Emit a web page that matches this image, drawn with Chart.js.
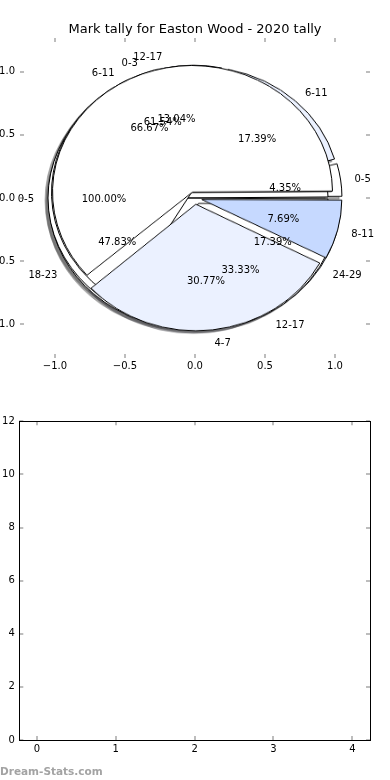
<!DOCTYPE html>
<html>
<head>
<meta charset="utf-8">
<script src="https://cdn.jsdelivr.net/npm/chart.js@4.4.0/dist/chart.umd.min.js"></script>
<style>
  html, body { margin: 0; padding: 0; background: #ffffff; }
  #wrap { position: relative; width: 390px; height: 780px; overflow: hidden; }
  #wrap canvas { position: absolute; left: 0; top: 0; }
  #bar { top: 400px !important; }
</style>
</head>
<body>
<div id="wrap">
  <canvas id="ax" width="390" height="390"></canvas>
  <canvas id="bar" width="390" height="380"></canvas>
</div>
<script>
// ---------------- data ----------------
const chartTitle = 'Mark tally for Easton Wood - 2020 tally';

const pieALabels = ['0-5', '6-11', '12-17', '18-23', '24-29'];
const pieAValues = [1, 4, 3, 11, 4];

const pieBLabels = ['0-3', '4-7', '8-11'];
const pieBValues = [8, 4, 1];

const pieCLabels = ['6-11', '12-17'];
const pieCValues = [2, 1];

const pieDLabels = ['0-5'];
const pieDValues = [1];

const pieTicks  = [-1.0, -0.5, 0.0, 0.5, 1.0];
const barXTicks = [0, 1, 2, 3, 4];
const barYTicks = [0, 2, 4, 6, 8, 10, 12];

const watermark = 'Dream-Stats.com';

// ---------------- style ----------------
const WHITE = '#ffffff', LIGHT = '#ebf1ff', BLUE = '#c6d9ff';
const pieAColors = [WHITE, LIGHT, BLUE, WHITE, LIGHT];
const pieBColors = [WHITE, LIGHT, BLUE];
const pieCColors = [WHITE, WHITE];
const pieDColors = [WHITE];
const EDGE = '#000000';
const EXPLODE = 0.05;        // explode distance, data units
const LABEL_DIST = 1.1;
const PCT_DIST = 0.6;
const TEXT_DY = 1.5;         // canvas vs matplotlib vertical text centring
const SHADOW_DX = -0.02, SHADOW_DY = -0.02;
const FONT = '"DejaVu Sans", "Liberation Sans", sans-serif';
const TICK_COLOR = '#bdbdbd';
const PIE_XLIM = 1.25, PIE_YLIM = 1.265;

// pies in drawing order (bottom -> top)
const pies = [
  { labels: pieALabels, values: pieAValues, colors: pieAColors },
  { labels: pieDLabels, values: pieDValues, colors: pieDColors },
  { labels: pieCLabels, values: pieCValues, colors: pieCColors },
  { labels: pieBLabels, values: pieBValues, colors: pieBColors }
];

const fmtTick = v => (v < 0 ? '\u2212' : '') + Math.abs(v).toFixed(1);

// inward tick marks on all four sides (+ optional frame)
function innerTicks(frame) {
  return {
    id: 'innerTicks',
    afterDraw(chart) {
      const { ctx, chartArea: a, scales: { x, y } } = chart;
      ctx.save();
      ctx.strokeStyle = TICK_COLOR;
      ctx.lineWidth = 2;
      const L = 4;
      x.ticks.forEach(t => {
        const p = Math.round(x.getPixelForValue(t.value));
        ctx.beginPath();
        ctx.moveTo(p, a.top); ctx.lineTo(p, a.top + L);
        ctx.moveTo(p, a.bottom); ctx.lineTo(p, a.bottom - L);
        ctx.stroke();
      });
      y.ticks.forEach(t => {
        const p = Math.round(y.getPixelForValue(t.value));
        ctx.beginPath();
        ctx.moveTo(a.left, p); ctx.lineTo(a.left + L, p);
        ctx.moveTo(a.right, p); ctx.lineTo(a.right - L, p);
        ctx.stroke();
      });
      if (frame) {
        ctx.strokeStyle = '#000';
        ctx.lineWidth = 1;
        const l = Math.round(a.left) + 0.5, r = Math.round(a.right) + 0.5;
        const tp = Math.round(a.top) + 0.5, b = Math.round(a.bottom) + 0.5;
        ctx.strokeRect(l, tp, r - l, b - tp);
      }
      ctx.restore();
    }
  };
}

// labels and percentages of every pie, placed through the axes scales
const pieText = {
  id: 'pieText',
  afterDraw(chart) {
    const { ctx, scales: { x, y } } = chart;
    ctx.save();
    ctx.font = '10px ' + FONT;
    ctx.fillStyle = '#000';
    ctx.textBaseline = 'middle';
    pies.forEach(p => {
      const total = p.values.reduce((s, v) => s + v, 0);
      let acc = 0;
      p.values.forEach((v, i) => {
        const a1 = acc / total * 360; acc += v;
        const a2 = acc / total * 360;
        const m = (a1 + a2) / 2 * Math.PI / 180;
        const ex = EXPLODE * Math.cos(m), ey = EXPLODE * Math.sin(m);
        const lx = ex + LABEL_DIST * Math.cos(m), ly = ey + LABEL_DIST * Math.sin(m);
        ctx.textAlign = lx > 0 ? 'left' : 'right';
        ctx.fillText(p.labels[i], x.getPixelForValue(lx), y.getPixelForValue(ly) + TEXT_DY);
        ctx.textAlign = 'center';
        ctx.fillText((v / total * 100).toFixed(2) + '%',
          x.getPixelForValue(ex + PCT_DIST * Math.cos(m)),
          y.getPixelForValue(ey + PCT_DIST * Math.sin(m)) + TEXT_DY);
      });
    });
    ctx.restore();
  }
};

const tickFont = { family: FONT, size: 10 };

// ---------------- top axes (frame for the pies) ----------------
const axCanvas = document.getElementById('ax');
const axChart = new Chart(axCanvas, {
  type: 'scatter',
  data: { datasets: [] },
  options: {
    responsive: false, animation: false, events: [], devicePixelRatio: 1,
    layout: { padding: 0 },
    plugins: {
      legend: { display: false }, tooltip: { enabled: false },
      title: {
        display: true, text: chartTitle, color: '#000',
        font: { family: FONT, size: 13, weight: 'normal' },
        padding: { top: 22, bottom: 0.4 }
      }
    },
    scales: {
      x: {
        type: 'linear', min: -PIE_XLIM, max: PIE_XLIM,
        afterBuildTicks: s => { s.ticks = pieTicks.map(v => ({ value: v })); },
        afterFit: s => { s.height = 32; },
        grid: { display: false, drawTicks: false }, border: { display: false },
        ticks: { color: '#000', font: tickFont, padding: 2, maxRotation: 0, autoSkip: false, callback: v => fmtTick(v) }
      },
      y: {
        type: 'linear', min: -PIE_YLIM, max: PIE_YLIM,
        afterBuildTicks: s => { s.ticks = pieTicks.map(v => ({ value: v })); },
        afterFit: s => { s.width = 20; },
        grid: { display: false, drawTicks: false }, border: { display: false },
        ticks: { color: '#000', font: tickFont, padding: 5, autoSkip: false, callback: v => fmtTick(v) }
      },
      yRight: {
        type: 'linear', position: 'right', min: -PIE_YLIM, max: PIE_YLIM,
        afterFit: s => { s.width = 20; },
        grid: { display: false, drawTicks: false }, border: { display: false },
        ticks: { display: false }
      }
    }
  },
  plugins: [innerTicks(false), pieText]
});

// geometry of the pie frame, from the axes scales
const xs = axChart.scales.x, ys = axChart.scales.y;
const cx = xs.getPixelForValue(0), cy = ys.getPixelForValue(0);
const unitX = xs.getPixelForValue(1) - cx;
const unitY = cy - ys.getPixelForValue(1);

// Chart.js's offset (explode) also grows the radius a bit; keep the wedge radius fixed
const explodeFix = {
  id: 'explodeFix',
  afterDatasetsUpdate(chart) {
    const meta = chart.getDatasetMeta(0);
    const R = meta.controller.outerRadius;
    const off = chart.data.datasets[0].offset || 0;
    meta.data.forEach(arc => {
      const o = off / 4;
      const fix = 1 - Math.sin(Math.min(Math.PI, arc.circumference || 0));
      arc.outerRadius = R - o * fix;
    });
  }
};

function shadowOf(hex) {
  const n = parseInt(hex.slice(1), 16);
  const r = ((n >> 16) & 255) * 0.3, g = ((n >> 8) & 255) * 0.3, b = (n & 255) * 0.3;
  return `rgba(${r.toFixed(0)},${g.toFixed(0)},${b.toFixed(0)},0.5)`;
}

const wrap = document.getElementById('wrap');
function pieChart(p, shadow) {
  const c = document.createElement('canvas');
  c.width = Math.round(2 * cx);
  c.height = Math.round(2 * cy);
  c.style.transformOrigin = `${cx}px ${cy}px`;
  const sq = unitY / unitX;
  c.style.transform = (shadow ? `translate(${SHADOW_DX * unitX}px, ${-SHADOW_DY * unitY}px) ` : '') + `scaleY(${-sq})`;
  wrap.insertBefore(c, axCanvas);
  const bg = shadow ? p.colors.map(shadowOf) : p.colors;
  new Chart(c, {
    type: 'pie',
    data: {
      labels: p.labels,
      datasets: [{
        data: p.values,
        backgroundColor: bg,
        borderColor: shadow ? bg : EDGE,
        borderWidth: 1,
        offset: EXPLODE * unitX * 4
      }]
    },
    options: {
      responsive: false, animation: false, events: [], devicePixelRatio: 1,
      rotation: 90, radius: unitX,
      layout: { padding: 0 },
      plugins: { legend: { display: false }, tooltip: { enabled: false }, title: { display: false } }
    },
    plugins: [explodeFix]
  });
}
pies.forEach(p => pieChart(p, true));
pies.forEach(p => pieChart(p, false));

// ---------------- bottom (empty) axes ----------------
const markPlugin = {
  id: 'mark',
  afterDraw(chart) {
    const { ctx } = chart;
    ctx.save();
    ctx.font = 'bold 10.5px ' + FONT;
    ctx.fillStyle = '#a3a3a3';
    ctx.textAlign = 'left';
    ctx.textBaseline = 'alphabetic';
    ctx.fillText(watermark, 0, 374.5);
    ctx.restore();
  }
};

new Chart(document.getElementById('bar'), {
  type: 'scatter',
  data: { datasets: [] },
  options: {
    responsive: false, animation: false, events: [], devicePixelRatio: 1,
    layout: { padding: { left: 0, right: 20, top: 21.3, bottom: 0 } },
    plugins: { legend: { display: false }, tooltip: { enabled: false }, title: { display: false } },
    scales: {
      x: {
        type: 'linear', min: -0.224, max: 4.224,
        afterBuildTicks: s => { s.ticks = barXTicks.map(v => ({ value: v })); },
        afterFit: s => { s.height = 40; },
        grid: { display: false, drawTicks: false }, border: { display: false },
        ticks: { color: '#000', font: tickFont, padding: 3, maxRotation: 0, autoSkip: false, callback: v => String(v) }
      },
      y: {
        type: 'linear', min: 0, max: 12,
        afterBuildTicks: s => { s.ticks = barYTicks.map(v => ({ value: v })); },
        afterFit: s => { s.width = 19.3; },
        grid: { display: false, drawTicks: false }, border: { display: false },
        ticks: { color: '#000', font: tickFont, padding: 4.5, autoSkip: false, callback: v => String(v) }
      }
    }
  },
  plugins: [innerTicks(true), markPlugin]
});
</script>
</body>
</html>
